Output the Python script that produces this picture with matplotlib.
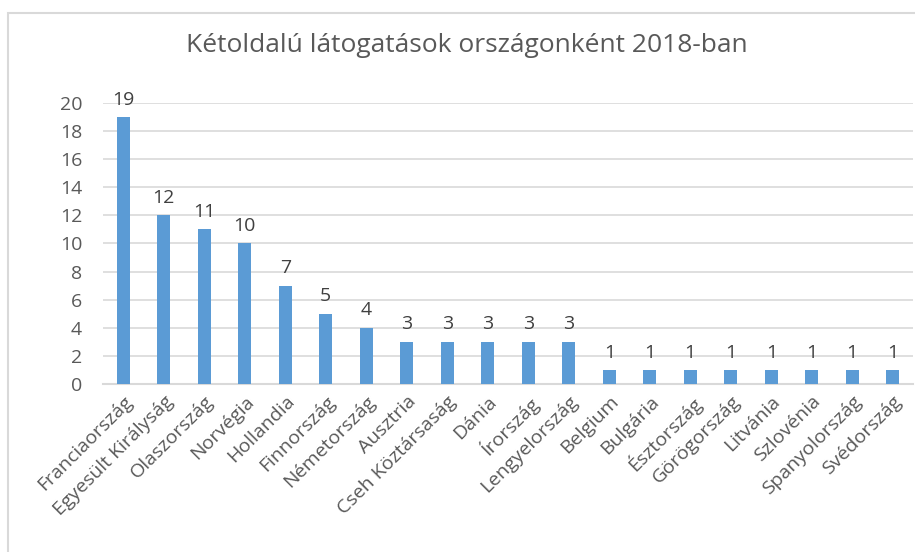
import matplotlib.pyplot as plt
from matplotlib.patches import Rectangle

plt.rcParams["font.family"] = ["Open Sans", "DejaVu Sans"]

countries = ["Franciaország", "Egyesült Királyság", "Olaszország", "Norvégia",
             "Hollandia", "Finnország", "Németország", "Ausztria",
             "Cseh Köztársaság", "Dánia", "Írország", "Lengyelország",
             "Belgium", "Bulgária", "Észtország", "Görögország", "Litvánia",
             "Szlovénia", "Spanyolország", "Svédország"]
visits = [19, 12, 11, 10, 7, 5, 4, 3, 3, 3, 3, 3, 1, 1, 1, 1, 1, 1, 1, 1]
yticks = list(range(0, 21, 2))

W, H = 915, 552
fig = plt.figure(figsize=(W / 100, H / 100), dpi=100)

# chart-area frame (light grey, runs off the right/bottom edges)
fig.patches.append(Rectangle((8 / W, -0.1), 1.2, 1 - 13 / H + 0.1,
                             transform=fig.transFigure, fill=False,
                             edgecolor="#d9d9d9", lw=1.5))

ax = fig.add_axes([103 / W, 1 - 384 / H, 810 / W, 281 / H])
x = range(len(countries))
bars = ax.bar(x, visits, width=0.32, color="#5b9bd5", zorder=3)
for xi, v in zip(x, visits):
    ax.text(xi, v + 0.6, str(v), ha="center", va="bottom",
            fontsize=14, color="#404040")

ax.set_xlim(-0.5, len(countries) - 0.5)
ax.set_ylim(0, 20)
ax.set_yticks(yticks)
ax.yaxis.grid(True, color="#d9d9d9", lw=1.2, zorder=0)
for s in ("top", "right", "left"):
    ax.spines[s].set_visible(False)
ax.spines["bottom"].set_color("#d9d9d9")
ax.spines["bottom"].set_linewidth(1.5)
ax.tick_params(length=0, labelsize=14, labelcolor="#595959")
ax.tick_params(axis="y", pad=15)
ax.set_xticks(list(x))
ax.set_xticklabels(countries, rotation=45, ha="right", rotation_mode="anchor")
ax.tick_params(axis="x", pad=6)

fig.text(467 / W, 1 - 45 / H, "Kétoldalú látogatások országonként 2018-ban",
         ha="center", va="center", fontsize=19, color="#595959")

fig.savefig("out.png", dpi=100)
